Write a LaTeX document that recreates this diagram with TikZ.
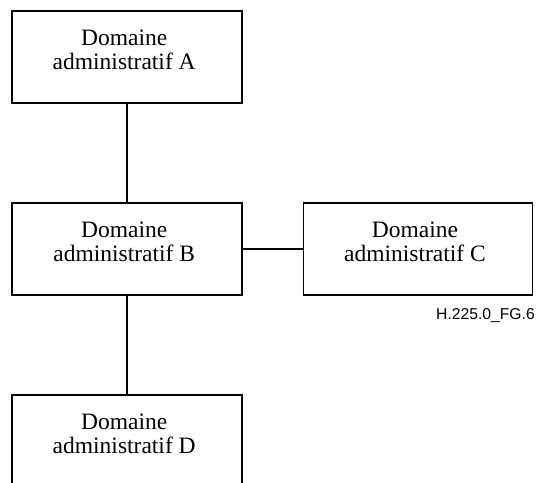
\documentclass[tikz,border=0pt]{standalone}
\usepackage{fontspec}
\setmainfont{Liberation Serif}
\newfontfamily\labfont{Liberation Sans}
\newcommand\domlines[2]{\vtop{\baselineskip=24pt\hbox to 0pt{\hss#1\hss\kern5.6pt}\hbox to 0pt{\hss#2\hss\kern5.6pt}}}
\begin{document}
\begin{tikzpicture}[x=1pt,y=-1pt,
  dombox/.style={draw=black,line width=1.3pt,minimum width=230pt,minimum height=92pt,inner sep=0pt,
    text height=0pt,text depth=22.6pt,font=\fontsize{23.5}{24}\selectfont},
  link/.style={draw=black,line width=2pt}]
\useasboundingbox[fill=white] (0,0) rectangle (537,482);
\node[dombox] (A) at (127,57) {\domlines{Domaine}{administratif A}};
\node[dombox] (B) at (127,249) {\domlines{Domaine}{administratif B}};
\node[dombox,minimum width=229pt] (C) at (417.8,249) {\domlines{Domaine}{administratif C}};
\node[dombox] (D) at (127,441) {\domlines{Domaine}{administratif D}};
\node[anchor=base east,inner sep=0pt,font=\labfont\fontsize{15.7}{18}\selectfont] (lab) at (535,319) {H.225.0\_FG.6};
\draw[link] (A) -- (B);
\draw[link] (B) -- (C);
\draw[link] (B) -- (D);
\end{tikzpicture}
\end{document}
